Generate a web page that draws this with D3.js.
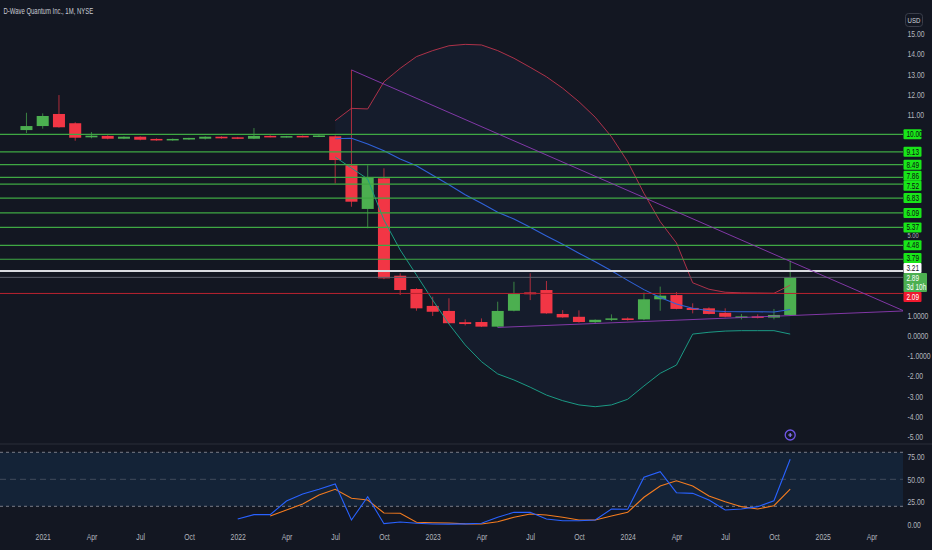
<!DOCTYPE html>
<html><head><meta charset="utf-8">
<script src="https://cdn.jsdelivr.net/npm/d3@7/dist/d3.min.js"></script>
<style>
html,body{margin:0;padding:0;background:#131722;overflow:hidden}
text{font-family:"Liberation Sans Narrow","Liberation Sans",Arial,sans-serif}
</style>
</head><body>
<svg id="c" width="932" height="550"></svg>
<script>
// ---------------- DATA ----------------
const title = "D-Wave Quantum Inc., 1M, NYSE";
const candleMonths = ["2020-12",
 "2021-01","2021-02","2021-03","2021-04","2021-05","2021-06","2021-07","2021-08","2021-09","2021-10","2021-11","2021-12",
 "2022-01","2022-02","2022-03","2022-04","2022-05","2022-06","2022-07","2022-08","2022-09","2022-10","2022-11","2022-12",
 "2023-01","2023-02","2023-03","2023-04","2023-05","2023-06","2023-07","2023-08","2023-09","2023-10","2023-11","2023-12",
 "2024-01","2024-02","2024-03","2024-04","2024-05","2024-06","2024-07","2024-08","2024-09","2024-10","2024-11"];
const openP  = [10.21,10.41,11.01,10.55,9.85,9.92,9.78,9.88,9.77,9.75,9.74,9.78,9.88,9.85,9.78,9.92,9.86,9.92,9.88,9.90,8.46,6.29,7.81,2.97,2.31,1.47,1.22,0.66,0.67,0.44,1.23,2.14,2.26,1.07,0.93,0.66,0.79,0.85,0.80,1.80,2.01,1.37,1.35,1.13,0.92,0.95,0.89,1.02];
const highP  = [11.07,11.04,11.95,10.60,10.11,9.95,9.90,9.90,9.80,9.79,9.83,9.90,9.90,9.87,10.31,9.95,9.92,9.94,9.96,9.95,13.20,8.46,8.31,3.09,2.35,1.93,1.85,0.80,0.85,1.68,2.67,3.09,2.71,1.26,1.25,0.80,1.05,0.90,2.13,2.43,2.16,1.60,1.40,1.35,1.07,1.05,1.32,3.72];
const lowP   = [10.06,10.28,10.33,9.68,9.80,9.75,9.76,9.70,9.68,9.68,9.72,9.74,9.78,9.76,9.76,9.85,9.84,9.85,9.86,7.56,6.40,5.33,2.80,2.01,1.23,0.97,0.58,0.50,0.42,0.40,1.20,1.76,1.08,0.88,0.64,0.60,0.72,0.74,0.76,1.23,1.30,1.10,1.05,0.90,0.80,0.85,0.80,0.98];
const closeP = [10.41,10.91,10.35,9.83,9.93,9.78,9.88,9.73,9.74,9.77,9.82,9.88,9.80,9.78,9.92,9.87,9.91,9.87,9.94,8.72,6.65,7.86,2.84,2.26,1.35,1.18,0.61,0.57,0.44,1.22,2.06,2.05,1.10,0.90,0.67,0.78,0.85,0.77,1.80,1.98,1.32,1.27,1.07,0.93,0.95,0.90,1.02,2.89];

const bandStart = "2022-07";
const upperBand = [10.68,11.29,11.26,12.61,13.28,13.86,14.16,14.40,14.47,14.44,14.16,13.78,13.33,12.86,12.29,11.62,10.85,9.88,8.64,7.07,5.66,4.60,2.62,2.30,2.15,2.12,2.11,2.10,2.50];
const lowerBand = [8.87,8.32,7.78,5.74,4.25,3.01,1.76,0.57,-0.47,-1.30,-1.91,-2.21,-2.57,-2.96,-3.24,-3.45,-3.54,-3.45,-3.17,-2.51,-1.88,-1.47,0.07,0.16,0.22,0.24,0.24,0.24,0.07];
const basisBand = [9.78,9.80,9.52,9.18,8.77,8.44,7.96,7.49,7.00,6.57,6.13,5.79,5.38,4.95,4.53,4.09,3.66,3.22,2.74,2.28,1.89,1.57,1.35,1.23,1.19,1.18,1.18,1.17,1.29];

const stochKStart = "2022-01";
const stochK = [5.9,10.7,10.7,25.9,33.7,38.9,44.8,4.8,30.7,0.7,2.6,1.1,0.3,0.2,0.5,1.1,7.8,13.3,13.3,5.9,4.0,4.0,4.8,17.0,16.7,52.2,58.4,35.1,34.4,27.0,15.9,17.0,19.6,26.2,72.2];
const stochDStart = "2022-03";
const stochD = [9.2,15.9,22.6,32.6,38.9,28.9,27.0,12.6,12.2,2.2,1.8,1.4,0.5,0.3,2.9,7.8,11.4,10.3,7.8,4.8,4.8,9.2,13.3,30.0,42.6,48.4,42.6,31.4,25.1,19.6,17.0,20.7,39.2];
const stochBands = [80, 50, 20];

const greenLevels = [10.00,9.13,8.49,7.86,7.52,6.83,6.09,5.37,4.48,3.79];
const whiteLevel = 3.21;
const lastPrice = 2.89;
const lastPriceCountdown = "3d 10h";
const redLevel = 2.09;

const trendUpper = [["2022-08",13.20],["2025-06",1.22]];
const trendLower = [["2023-05",0.40],["2025-06",1.22]];
const markerMonth = "2024-11";

const xTickMonths = ["2021-01","2021-04","2021-07","2021-10","2022-01","2022-04","2022-07","2022-10","2023-01","2023-04","2023-07","2023-10","2024-01","2024-04","2024-07","2024-10","2025-01","2025-04"];
const xTickLabels = ["2021","Apr","Jul","Oct","2022","Apr","Jul","Oct","2023","Apr","Jul","Oct","2024","Apr","Jul","Oct","2025","Apr"];
const yTicks = [15,14,13,12,11,5,1,0,-1,-2,-3,-4,-5];
const yTickLabels = ["15.00","14.00","13.00","12.00","11.00","5.00","1.0000","0.0000","-1.0000","-2.00","-3.00","-4.00","-5.00"];
const sTicks = [75,50,25,0];
const sTickLabels = ["75.00","50.00","25.00","0.00"];

// ---------------- DRAW ----------------
const mIdx = s => { const [yy,mm] = s.split("-").map(Number); return (yy-2021)*12 + (mm-1); };
const W = 932, H = 550, plotR = 903, mainB = 444;
const svg = d3.select("#c");
svg.append("rect").attr("width",W).attr("height",H).attr("fill","#131722");

const x  = d3.scaleLinear().domain([-2.628, 52.757]).range([0, 900]);
const y  = d3.scaleLinear().domain([-5.393, 16.675]).range([mainB, 0]);
const ys = d3.scaleLinear().domain([0, 100]).range([524.3, 434.3]);
const SX = 0.76;

const defs = svg.append("defs");
defs.append("clipPath").attr("id","clipMain").append("rect").attr("x",0).attr("y",0).attr("width",plotR).attr("height",mainB);
defs.append("clipPath").attr("id","clipSub").append("rect").attr("x",0).attr("y",mainB).attr("width",plotR).attr("height",H-mainB);

const plot = svg.append("g").attr("clip-path","url(#clipMain)");

// band fill
const b0 = mIdx(bandStart);
const bandData = upperBand.map((u,i)=>({m:b0+i,u:u,l:lowerBand[i],b:basisBand[i]}));
plot.append("path").datum(bandData)
  .attr("d", d3.area().x(d=>x(d.m)).y0(d=>y(d.l)).y1(d=>y(d.u)))
  .attr("fill","rgba(60,100,200,0.065)");

// candles
const bw = (x(1)-x(0))*0.74;
const candles = candleMonths.map((s,i)=>({m:mIdx(s),o:openP[i],h:highP[i],l:lowP[i],c:closeP[i]}));
const cg = plot.append("g");
const col = d => d.c >= d.o ? "#4caf50" : "#f23645";
cg.selectAll("line.w").data(candles).join("line")
  .attr("x1",d=>x(d.m)).attr("x2",d=>x(d.m))
  .attr("y1",d=>y(d.h)).attr("y2",d=>y(d.l))
  .attr("stroke",d=>col(d)).attr("stroke-opacity",0.7).attr("stroke-width",1);
cg.selectAll("rect.b").data(candles).join("rect")
  .attr("x",d=>x(d.m)-bw/2).attr("width",bw)
  .attr("y",d=>y(Math.max(d.o,d.c)))
  .attr("height",d=>Math.max(1.5, Math.abs(y(d.o)-y(d.c))))
  .attr("fill",d=>col(d));

// band lines
const ln = acc => d3.line().x(d=>x(d.m)).y(d=>y(acc(d)));
plot.append("path").datum(bandData).attr("d",ln(d=>d.u)).attr("fill","none").attr("stroke","#c8364f").attr("stroke-opacity",0.85).attr("stroke-width",1);
plot.append("path").datum(bandData).attr("d",ln(d=>d.l)).attr("fill","none").attr("stroke","#1b9a84").attr("stroke-width",1);
plot.append("path").datum(bandData).attr("d",ln(d=>d.b)).attr("fill","none").attr("stroke","#2f62d8").attr("stroke-width",1.1);

// horizontal levels
const hg = plot.append("g");
greenLevels.forEach(v=>{
  hg.append("line").attr("x1",0).attr("x2",plotR).attr("y1",y(v)).attr("y2",y(v))
    .attr("stroke","#3fa843").attr("stroke-width",1.2);
});
hg.append("line").attr("x1",0).attr("x2",plotR).attr("y1",y(whiteLevel)).attr("y2",y(whiteLevel)).attr("stroke","#d9dbe0").attr("stroke-width",2);
hg.append("line").attr("x1",0).attr("x2",plotR).attr("y1",y(lastPrice)).attr("y2",y(lastPrice)).attr("stroke","#5a5e6a").attr("stroke-width",1);
hg.append("line").attr("x1",0).attr("x2",plotR).attr("y1",y(redLevel)).attr("y2",y(redLevel)).attr("stroke","#b8232f").attr("stroke-width",1);

// trendlines
[trendUpper, trendLower].forEach(t=>{
  plot.append("line")
    .attr("x1",x(mIdx(t[0][0]))).attr("y1",y(t[0][1]))
    .attr("x2",x(mIdx(t[1][0]))).attr("y2",y(t[1][1]))
    .attr("stroke","#8d3bb4").attr("stroke-opacity",0.9).attr("stroke-width",1);
});

// marker icon
const mk = svg.append("g").attr("transform",`translate(${x(mIdx(markerMonth))},435)`);
mk.append("circle").attr("r",5).attr("fill","#131722").attr("stroke","#6f56e8").attr("stroke-width",1.3);
mk.append("path").attr("d","M-2,0H2M0,-2V2").attr("stroke","#8f7bff").attr("stroke-width",1.2);

// separator
svg.append("line").attr("x1",0).attr("x2",W).attr("y1",mainB).attr("y2",mainB).attr("stroke","#2a2e39").attr("stroke-width",1);

// stochastic panel
const sub = svg.append("g").attr("clip-path","url(#clipSub)");
sub.append("rect").attr("x",0).attr("width",plotR)
  .attr("y",ys(stochBands[0])).attr("height",ys(stochBands[2])-ys(stochBands[0]))
  .attr("fill","rgba(33,150,243,0.1)");
stochBands.forEach((v,i)=>{
  sub.append("line").attr("x1",0).attr("x2",plotR).attr("y1",ys(v)).attr("y2",ys(v))
    .attr("stroke", i===1 ? "rgba(120,123,134,0.45)" : "#787b86")
    .attr("stroke-dasharray", i===1 ? "6,4" : "3,3").attr("stroke-width",1);
});
const k0 = mIdx(stochKStart), d0 = mIdx(stochDStart);
sub.append("path").datum(stochD.map((v,i)=>({m:d0+i,v:v})))
  .attr("d",d3.line().x(d=>x(d.m)).y(d=>ys(d.v))).attr("fill","none").attr("stroke","#f57c1f").attr("stroke-width",1.1);
sub.append("path").datum(stochK.map((v,i)=>({m:k0+i,v:v})))
  .attr("d",d3.line().x(d=>x(d.m)).y(d=>ys(d.v))).attr("fill","none").attr("stroke","#2962ff").attr("stroke-width",1.1);

// ---------------- AXES ----------------
const axisTxt = "#b2b5be";
const xAxis = svg.append("g").attr("transform","translate(0,537)")
  .call(d3.axisBottom(x).tickValues(xTickMonths.map(mIdx)).tickFormat((d,i)=>xTickLabels[i]).tickSize(0).tickPadding(0));
xAxis.select(".domain").remove();
xAxis.selectAll("text").attr("y",0).attr("dy","0.35em").attr("transform",`scale(${SX},1)`)
  .attr("fill",axisTxt).attr("font-size","9px").attr("font-family",null);

const yAxis = svg.append("g")
  .call(d3.axisRight(y).tickValues(yTicks).tickFormat((d,i)=>yTickLabels[i]).tickSize(0).tickPadding(0));
yAxis.select(".domain").remove();
yAxis.selectAll("text").attr("x",0).attr("dy","0.35em").attr("transform",`translate(907.5,0) scale(${SX},1)`)
  .attr("fill",axisTxt).attr("font-size",(d)=> d===5 ? "7.5px" : "9px").attr("font-family",null);

const sAxis = svg.append("g")
  .call(d3.axisRight(ys).tickValues(sTicks).tickFormat((d,i)=>sTickLabels[i]).tickSize(0).tickPadding(0));
sAxis.select(".domain").remove();
sAxis.selectAll("text").attr("x",0).attr("dy","0.35em").attr("transform",`translate(907.5,0) scale(${SX},1)`)
  .attr("fill",axisTxt).attr("font-size","9px").attr("font-family",null);

// ---------------- PRICE LABELS ----------------
const labels = greenLevels.map(v=>({v:v, lines:[v.toFixed(2)], fill:"#19e619", color:"#0b0d12", w:18}));
labels.push({v:whiteLevel, lines:[whiteLevel.toFixed(2)], fill:"#ffffff", color:"#131722", w:18});
labels.push({v:lastPrice, lines:[lastPrice.toFixed(2), lastPriceCountdown], fill:"#4caf50", color:"#ffffff", w:23.5});
labels.push({v:redLevel, lines:[redLevel.toFixed(2)], fill:"#f0192e", color:"#ffffff", w:18});
const LH = 10;
labels.forEach(l=>{ l.h = LH*l.lines.length - (l.lines.length>1?1:0); l.top = y(l.v) - LH/2; });
labels.sort((a,b)=>a.top-b.top);
for (let it=0; it<60; it++) {
  for (let i=0;i<labels.length-1;i++){
    const a=labels[i], b=labels[i+1];
    const ov = a.top + a.h - b.top;
    if (ov > 0.01) { a.top -= ov/2; b.top += ov/2; }
  }
}
const lg = svg.append("g");
labels.forEach(l=>{
  lg.append("rect").attr("x",903.5).attr("y",l.top).attr("width",l.w).attr("height",l.h)
    .attr("rx",1).attr("fill",l.fill);
  l.lines.forEach((t,j)=>{
    lg.append("text").attr("transform",`translate(906.5,${l.top + LH/2 + j*9}) scale(${SX},1)`)
      .attr("dy","0.35em").attr("font-size","8.5px").attr("fill",l.color).text(t);
  });
});

// currency box
svg.append("rect").attr("x",905.5).attr("y",13.5).attr("width",17).attr("height",13).attr("rx",3)
  .attr("fill","#131722").attr("stroke","#3a3e4a").attr("stroke-width",1);
svg.append("text").attr("transform",`translate(914,20) scale(${SX},1)`).attr("dy","0.35em")
  .attr("text-anchor","middle").attr("font-size","8px").attr("fill","#d1d4dc").text("USD");

// title
svg.append("text").attr("transform",`translate(3.5,10.7) scale(0.7,1)`).attr("dy","0.35em")
  .attr("font-size","8.5px").attr("fill","#c9ccd4").text(title);
</script>
</body></html>
